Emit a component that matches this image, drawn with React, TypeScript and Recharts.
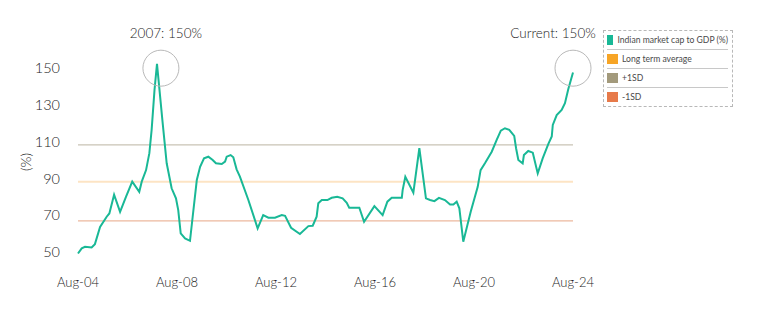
import React from 'react';
import { LineChart, Line, XAxis, YAxis, ReferenceLine, ReferenceDot, Legend, Label } from 'recharts';

// months since Aug-04
const months = [
  0, 1.8, 3.4, 6.6, 8.2, 10.7, 13.9, 15.2, 17.5, 20.4, 23.3, 26.3, 29.7, 30.9, 33, 34.6, 35.7, 37.1, 38.3,
  40.9, 43, 45.4, 47.5, 48.6, 49.8, 51.9, 54.3, 55.6, 57.6, 59.2, 61.1, 63.2, 65.3, 66.9, 69.7, 71.3, 72.1,
  74, 75.3, 76.9, 78.5, 82.6, 87.1, 89.8, 92.3, 95.5, 98.8, 100.4, 103.3, 107.6, 111.7, 113.8, 115.7, 116.5,
  118.2, 120.9, 123, 125.7, 128.3, 130.3, 131.5, 136.4, 138.7, 143.7, 147.7, 150, 152.1, 157, 157.4, 158.7,
  162.6, 165.5, 168.7, 170.7, 172.8, 175, 177.9, 180.4, 182, 183.6, 184.9, 186.8, 190.4, 193.8, 195.2, 197.3,
  200.6, 203, 205, 207, 209.1, 211.5, 212.4, 213.5, 215.6, 216.2, 218.3, 220.5, 222.9, 225.3, 228, 229.7,
  230.2, 232.1, 234.5, 236.1, 237.7, 240,
];
const capToGdp = [
  49.1, 51.9, 52.7, 52.4, 54.2, 63.6, 69.1, 70.9, 81.1, 71.8, 80, 88.2, 82.7, 88.2, 94.5, 103.7, 116.4, 138.2, 152.3,
  121.8, 98.2, 84.6, 79.1, 72.7, 60, 57.3, 56, 69.1, 89.1, 96.3, 100.9, 101.8, 100, 98.2, 97.8, 99.1, 101.8,
  102.7, 101.5, 94.9, 90.9, 78.2, 62.8, 70, 68.6, 68.6, 70, 69.6, 63.1, 59.7, 64, 64.2, 69.1, 76.4,
  78.2, 78.2, 79.4, 80, 79.1, 76.7, 74, 74, 66.4, 74.9, 70, 77.3, 79.4, 79.4, 83.6, 90.9,
  82.2, 106.4, 79.1, 78.2, 77.6, 79.4, 78.2, 75.8, 75.8, 77.3, 73.7, 55.5, 71.8, 85.4, 94.5, 98.2,
  104.5, 110.9, 116, 117.3, 116.4, 113.1, 106.4, 100, 98.2, 102.7, 104.9, 104, 92.7, 100.9, 108.6, 112.8,
  119.1, 124.5, 127.3, 130.9, 138.5, 147.6,
];

const longTermAverage = 88.2;
const plusOneSD = 108.2;
const minusOneSD = 66.8;

const xTickMonths = [0, 48, 96, 144, 192, 240];
const xTickLabels = ['Aug-04', 'Aug-08', 'Aug-12', 'Aug-16', 'Aug-20', 'Aug-24'];
const yTicks = [50, 70, 90, 110, 130, 150];

const legendNames = ['Indian market cap to GDP (%)', 'Long term average', '+1SD', '-1SD'];
const legendColors = ['#19b896', '#f7a526', '#a39a7c', '#e77a4a'];

const annotations = [
  { month: 40.2, value: 150, text: '2007: 150%', dx: 5 },
  { month: 240, value: 150, text: 'Current: 150%', dx: -20 },
];

const data = months.map((m, i) => ({ m, v: capToGdp[i] }));

const FONT = 'Lato, "Noto Sans", sans-serif';
const TEXT = '#1c1c1c';
const WEIGHT = 300;

function LegendBox() {
  return (
    <div
      style={{
        border: '1px dashed #b8b8b8',
        padding: '0 4px 0 3px',
        fontFamily: FONT,
        fontWeight: 400,
        fontSize: 8.6,
        color: '#4a4a4a',
        width: 121,
        boxSizing: 'content-box',
      }}
    >
      {legendNames.map((n, i) => (
        <div
          key={n}
          style={{
            display: 'flex',
            alignItems: 'center',
            height: 18,
            borderBottom: i < legendNames.length - 1 ? '1px solid #c8c8c8' : 'none',
            whiteSpace: 'nowrap',
          }}
        >
          <span style={{ display: 'inline-block', width: 11, height: 10, background: legendColors[i], marginRight: 4 }} />
          <span>{n}</span>
        </div>
      ))}
    </div>
  );
}

export default function App() {
  return (
    <div style={{ position: 'absolute', left: 0, top: 0, width: 762, height: 317, background: '#fff' }}>
      <LineChart width={762} height={317} data={data} margin={{ top: 59, right: 189, bottom: 26, left: 0 }}>
        <XAxis
          dataKey="m"
          type="number"
          domain={[0, 240]}
          ticks={xTickMonths}
          tickFormatter={(v: number) => xTickLabels[xTickMonths.indexOf(v)] ?? ''}
          axisLine={false}
          tickLine={false}
          tickMargin={11}
          height={30}
          interval={0}
          tick={{ fill: TEXT, fontSize: 13, fontFamily: FONT, fontWeight: WEIGHT }}
        />
        <YAxis
          type="number"
          domain={[45, 155]}
          ticks={yTicks}
          axisLine={false}
          tickLine={false}
          width={78}
          tickMargin={12}
          interval={0}
          tick={{ fill: TEXT, fontSize: 14.5, fontFamily: FONT, fontWeight: WEIGHT }}
        >
          <Label
            content={(props: any) => {
              const vb = props.viewBox || { x: 0, y: 0, height: 0 };
              const cx = 25;
              const cy = vb.y + vb.height / 2 + 2;
              return (
                <text
                  x={cx}
                  y={cy}
                  transform={`rotate(-90 ${cx} ${cy})`}
                  textAnchor="middle"
                  dominantBaseline="central"
                  fill={TEXT}
                  fontSize={14}
                  fontFamily={FONT}
                  fontWeight={WEIGHT}
                >
                  (%)
                </text>
              );
            }}
          />
        </YAxis>
        <ReferenceLine y={plusOneSD} stroke="#c9c3b5" strokeWidth={1.3} ifOverflow="visible" />
        <ReferenceLine y={longTermAverage} stroke="#fde4c4" strokeWidth={2} ifOverflow="visible" />
        <ReferenceLine y={minusOneSD} stroke="#ecb89e" strokeWidth={1.3} ifOverflow="visible" />
        <Line
          type="linear"
          dataKey="v"
          stroke="#19b896"
          strokeWidth={2}
          dot={false}
          activeDot={false}
          isAnimationActive={false}
        />
        {annotations.map((a) => (
          <ReferenceDot
            key={a.text}
            x={a.month}
            y={a.value}
            r={18}
            fill="none"
            stroke="#b9b9b9"
            strokeWidth={1}
            ifOverflow="visible"
          >
            <Label
              content={(props: any) => {
                const vb = props.viewBox || { x: 0, y: 0, width: 0 };
                return (
                  <text
                    x={vb.x + vb.width / 2 + a.dx}
                    y={vb.y - 12}
                    textAnchor="middle"
                    fill={TEXT}
                    fontSize={13.5}
                    fontFamily={FONT}
                    fontWeight={WEIGHT}
                  >
                    {a.text}
                  </text>
                );
              }}
            />
          </ReferenceDot>
        ))}
        <Legend
          layout="vertical"
          align="center"
          verticalAlign="middle"
          content={() => <LegendBox />}
          wrapperStyle={{ left: 603, top: 30, width: 'auto' }}
        />
      </LineChart>
    </div>
  );
}
